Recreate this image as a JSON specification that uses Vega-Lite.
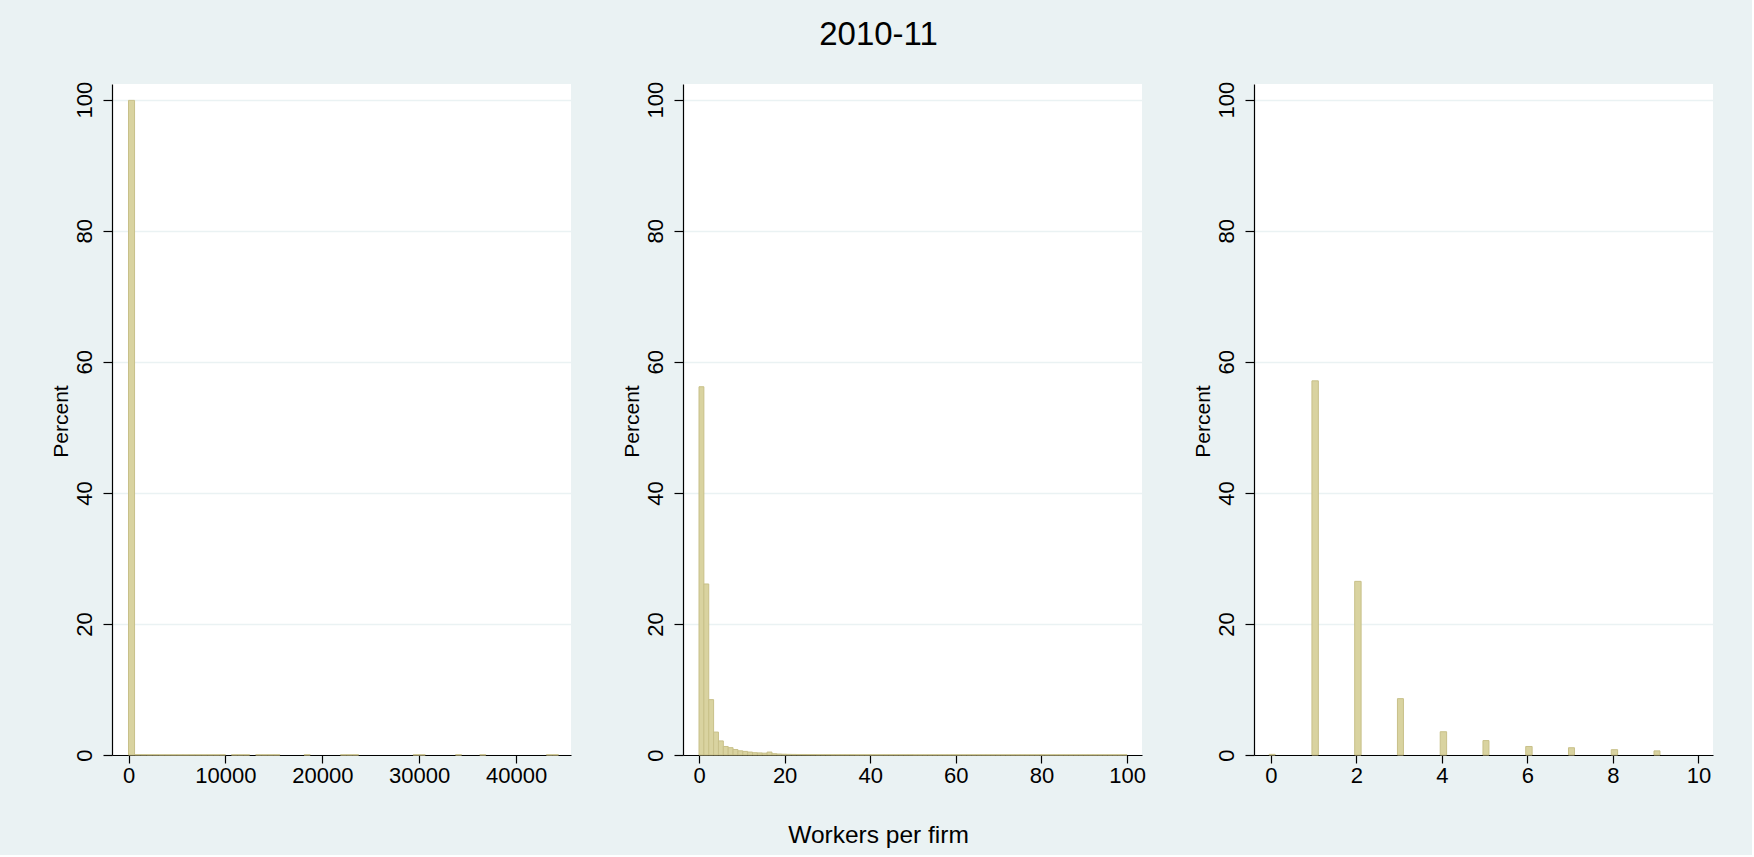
{
  "$schema": "https://vega.github.io/schema/vega-lite/v6.json",
  "background": "#EAF2F3",
  "padding": {"left": 50, "top": 19, "right": 39, "bottom": 8},
  "title": {"text": "2010-11", "fontSize": 33, "fontWeight": "normal", "font": "Liberation Sans", "color": "#000000", "anchor": "middle", "dx": -3, "offset": 29},
  "bounds": "flush",
  "spacing": 112,
  "datasets": {
    "left": [
      {"x0": 0, "x1": 625, "pct": 99.9},
      {"x0": 625, "x1": 1250, "pct": 0.05},
      {"x0": 1250, "x1": 1875, "pct": 0.05},
      {"x0": 1875, "x1": 2500, "pct": 0.04},
      {"x0": 2500, "x1": 3125, "pct": 0.04},
      {"x0": 3125, "x1": 3750, "pct": 0.03},
      {"x0": 3750, "x1": 4375, "pct": 0.03},
      {"x0": 4375, "x1": 5000, "pct": 0.03},
      {"x0": 5000, "x1": 5625, "pct": 0.03},
      {"x0": 5625, "x1": 6250, "pct": 0.03},
      {"x0": 6250, "x1": 6875, "pct": 0.03},
      {"x0": 6875, "x1": 7500, "pct": 0.03},
      {"x0": 7500, "x1": 8125, "pct": 0.03},
      {"x0": 8125, "x1": 8750, "pct": 0.03},
      {"x0": 8750, "x1": 9375, "pct": 0.03},
      {"x0": 9375, "x1": 10000, "pct": 0.03},
      {"x0": 10625, "x1": 11250, "pct": 0.03},
      {"x0": 11250, "x1": 11875, "pct": 0.03},
      {"x0": 11875, "x1": 12500, "pct": 0.03},
      {"x0": 13125, "x1": 13750, "pct": 0.03},
      {"x0": 13750, "x1": 14375, "pct": 0.03},
      {"x0": 14375, "x1": 15000, "pct": 0.03},
      {"x0": 15000, "x1": 15625, "pct": 0.03},
      {"x0": 18125, "x1": 18750, "pct": 0.03},
      {"x0": 21875, "x1": 22500, "pct": 0.03},
      {"x0": 22500, "x1": 23125, "pct": 0.03},
      {"x0": 23125, "x1": 23750, "pct": 0.03},
      {"x0": 29375, "x1": 30000, "pct": 0.03},
      {"x0": 30000, "x1": 30625, "pct": 0.03},
      {"x0": 33750, "x1": 34375, "pct": 0.03},
      {"x0": 36250, "x1": 36875, "pct": 0.03},
      {"x0": 43125, "x1": 43750, "pct": 0.03},
      {"x0": 43750, "x1": 44375, "pct": 0.03}
    ],
    "mid": [
      {"x0": 0, "x1": 1.136, "pct": 56.2},
      {"x0": 1.136, "x1": 2.273, "pct": 26.1},
      {"x0": 2.273, "x1": 3.409, "pct": 8.45},
      {"x0": 3.409, "x1": 4.545, "pct": 3.5},
      {"x0": 4.545, "x1": 5.682, "pct": 2.15},
      {"x0": 5.682, "x1": 6.818, "pct": 1.3},
      {"x0": 6.818, "x1": 7.955, "pct": 1.12},
      {"x0": 7.955, "x1": 9.091, "pct": 0.84},
      {"x0": 9.091, "x1": 10.227, "pct": 0.64},
      {"x0": 10.227, "x1": 11.364, "pct": 0.55},
      {"x0": 11.364, "x1": 12.5, "pct": 0.45},
      {"x0": 12.5, "x1": 13.636, "pct": 0.35},
      {"x0": 13.636, "x1": 14.773, "pct": 0.32},
      {"x0": 14.773, "x1": 15.909, "pct": 0.28},
      {"x0": 15.909, "x1": 17.045, "pct": 0.45},
      {"x0": 17.045, "x1": 18.182, "pct": 0.2},
      {"x0": 18.182, "x1": 19.318, "pct": 0.15},
      {"x0": 19.318, "x1": 20.455, "pct": 0.12},
      {"x0": 20.455, "x1": 21.591, "pct": 0.1},
      {"x0": 21.591, "x1": 22.727, "pct": 0.09},
      {"x0": 22.727, "x1": 23.864, "pct": 0.08},
      {"x0": 23.864, "x1": 25.0, "pct": 0.08},
      {"x0": 25.0, "x1": 26.136, "pct": 0.07},
      {"x0": 26.136, "x1": 27.273, "pct": 0.07},
      {"x0": 27.273, "x1": 28.409, "pct": 0.06},
      {"x0": 28.409, "x1": 29.545, "pct": 0.06},
      {"x0": 29.545, "x1": 30.682, "pct": 0.06},
      {"x0": 30.682, "x1": 31.818, "pct": 0.05},
      {"x0": 31.818, "x1": 32.955, "pct": 0.05},
      {"x0": 32.955, "x1": 34.091, "pct": 0.05},
      {"x0": 34.091, "x1": 35.227, "pct": 0.05},
      {"x0": 35.227, "x1": 36.364, "pct": 0.05},
      {"x0": 36.364, "x1": 37.5, "pct": 0.04},
      {"x0": 37.5, "x1": 38.636, "pct": 0.04},
      {"x0": 38.636, "x1": 39.773, "pct": 0.04},
      {"x0": 39.773, "x1": 40.909, "pct": 0.04},
      {"x0": 40.909, "x1": 42.045, "pct": 0.04},
      {"x0": 42.045, "x1": 43.182, "pct": 0.04},
      {"x0": 43.182, "x1": 44.318, "pct": 0.04},
      {"x0": 44.318, "x1": 45.455, "pct": 0.04},
      {"x0": 45.455, "x1": 46.591, "pct": 0.04},
      {"x0": 46.591, "x1": 47.727, "pct": 0.04},
      {"x0": 47.727, "x1": 48.864, "pct": 0.04},
      {"x0": 48.864, "x1": 50.0, "pct": 0.04},
      {"x0": 50.0, "x1": 51.136, "pct": 0.03},
      {"x0": 51.136, "x1": 52.273, "pct": 0.03},
      {"x0": 52.273, "x1": 53.409, "pct": 0.03},
      {"x0": 53.409, "x1": 54.545, "pct": 0.03},
      {"x0": 54.545, "x1": 55.682, "pct": 0.03},
      {"x0": 55.682, "x1": 56.818, "pct": 0.03},
      {"x0": 56.818, "x1": 57.955, "pct": 0.03},
      {"x0": 57.955, "x1": 59.091, "pct": 0.03},
      {"x0": 59.091, "x1": 60.227, "pct": 0.03},
      {"x0": 60.227, "x1": 61.364, "pct": 0.03},
      {"x0": 61.364, "x1": 62.5, "pct": 0.03},
      {"x0": 62.5, "x1": 63.636, "pct": 0.03},
      {"x0": 63.636, "x1": 64.773, "pct": 0.03},
      {"x0": 64.773, "x1": 65.909, "pct": 0.03},
      {"x0": 65.909, "x1": 67.045, "pct": 0.03},
      {"x0": 67.045, "x1": 68.182, "pct": 0.03},
      {"x0": 68.182, "x1": 69.318, "pct": 0.03},
      {"x0": 69.318, "x1": 70.455, "pct": 0.03},
      {"x0": 70.455, "x1": 71.591, "pct": 0.03},
      {"x0": 71.591, "x1": 72.727, "pct": 0.03},
      {"x0": 72.727, "x1": 73.864, "pct": 0.03},
      {"x0": 73.864, "x1": 75.0, "pct": 0.03},
      {"x0": 75.0, "x1": 76.136, "pct": 0.03},
      {"x0": 76.136, "x1": 77.273, "pct": 0.03},
      {"x0": 77.273, "x1": 78.409, "pct": 0.03},
      {"x0": 78.409, "x1": 79.545, "pct": 0.03},
      {"x0": 79.545, "x1": 80.682, "pct": 0.03},
      {"x0": 80.682, "x1": 81.818, "pct": 0.03},
      {"x0": 81.818, "x1": 82.955, "pct": 0.03},
      {"x0": 82.955, "x1": 84.091, "pct": 0.03},
      {"x0": 84.091, "x1": 85.227, "pct": 0.03},
      {"x0": 85.227, "x1": 86.364, "pct": 0.03},
      {"x0": 86.364, "x1": 87.5, "pct": 0.03},
      {"x0": 87.5, "x1": 88.636, "pct": 0.03},
      {"x0": 88.636, "x1": 89.773, "pct": 0.03},
      {"x0": 89.773, "x1": 90.909, "pct": 0.03},
      {"x0": 90.909, "x1": 92.045, "pct": 0.03},
      {"x0": 92.045, "x1": 93.182, "pct": 0.03},
      {"x0": 93.182, "x1": 94.318, "pct": 0.03},
      {"x0": 94.318, "x1": 95.455, "pct": 0.03},
      {"x0": 95.455, "x1": 96.591, "pct": 0.03},
      {"x0": 96.591, "x1": 97.727, "pct": 0.03},
      {"x0": 97.727, "x1": 98.864, "pct": 0.03},
      {"x0": 98.864, "x1": 100.0, "pct": 0.03}
    ],
    "right": [
      {"x0": -0.04, "x1": 0.1, "pct": 0.1},
      {"x0": 0.96, "x1": 1.11, "pct": 57.1},
      {"x0": 1.96, "x1": 2.11, "pct": 26.5},
      {"x0": 2.96, "x1": 3.1, "pct": 8.6},
      {"x0": 3.96, "x1": 4.11, "pct": 3.55},
      {"x0": 4.96, "x1": 5.1, "pct": 2.2},
      {"x0": 5.96, "x1": 6.11, "pct": 1.3},
      {"x0": 6.96, "x1": 7.1, "pct": 1.11},
      {"x0": 7.96, "x1": 8.11, "pct": 0.81},
      {"x0": 8.96, "x1": 9.1, "pct": 0.63}
    ]
  },
  "hconcat": [
    {
      "width": 459,
      "height": 671,
      "data": {"name": "left"},
      "mark": {"type": "bar"},
      "encoding": {
        "x": {"field": "x0", "type": "quantitative", "scale": {"domain": [-1703, 45666], "nice": false, "zero": false}, "axis": {"values": [0, 10000, 20000, 30000, 40000], "format": "d", "title": null}},
        "x2": {"field": "x1"},
        "y": {"field": "pct", "type": "quantitative", "scale": {"domain": [0, 102.4], "nice": false}, "axis": {"title": "Percent", "values": [0, 20, 40, 60, 80, 100]}},
        "y2": {"datum": 0}
      }
    },
    {
      "width": 459,
      "height": 671,
      "data": {"name": "mid"},
      "mark": {"type": "bar"},
      "encoding": {
        "x": {"field": "x0", "type": "quantitative", "scale": {"domain": [-3.74, 103.5], "nice": false, "zero": false}, "axis": {"values": [0, 20, 40, 60, 80, 100], "format": "d", "title": "Workers per firm", "titleFontSize": 24.5, "titleX": 195, "titleY": 87, "titleAlign": "center", "titleBaseline": "alphabetic", "titleAngle": 0}},
        "x2": {"field": "x1"},
        "y": {"field": "pct", "type": "quantitative", "scale": {"domain": [0, 102.4], "nice": false}, "axis": {"title": "Percent", "values": [0, 20, 40, 60, 80, 100]}},
        "y2": {"datum": 0}
      }
    },
    {
      "width": 459,
      "height": 671,
      "data": {"name": "right"},
      "mark": {"type": "bar"},
      "encoding": {
        "x": {"field": "x0", "type": "quantitative", "scale": {"domain": [-0.395, 10.34], "nice": false, "zero": false}, "axis": {"values": [0, 2, 4, 6, 8, 10], "format": "d", "title": null}},
        "x2": {"field": "x1"},
        "y": {"field": "pct", "type": "quantitative", "scale": {"domain": [0, 102.4], "nice": false}, "axis": {"title": "Percent", "values": [0, 20, 40, 60, 80, 100]}},
        "y2": {"datum": 0}
      }
    }
  ],
  "config": {
    "font": "Liberation Sans",
    "view": {"fill": "#FFFFFF", "stroke": null},
    "bar": {"fill": "#D9D3A0", "stroke": "#C8C089", "strokeWidth": 1},
    "axis": {"domainColor": "#000000", "tickColor": "#000000", "labelColor": "#000000", "titleColor": "#000000", "labelFont": "Liberation Sans", "titleFont": "Liberation Sans", "titleFontWeight": "normal", "labelFontSize": 22, "domainWidth": 1.2, "tickWidth": 1.2},
    "axisX": {"grid": false, "tickSize": 8, "labelPadding": 2},
    "axisY": {"grid": true, "gridColor": "#EAF2F3", "gridWidth": 1.5, "tickSize": 9, "labelAngle": 270, "labelAlign": "center", "labelBaseline": "alphabetic", "labelPadding": 12, "titleFontSize": 21, "titleAngle": 270, "titleX": -45, "titleY": 337, "titleAlign": "center", "titleBaseline": "alphabetic"}
  }
}
